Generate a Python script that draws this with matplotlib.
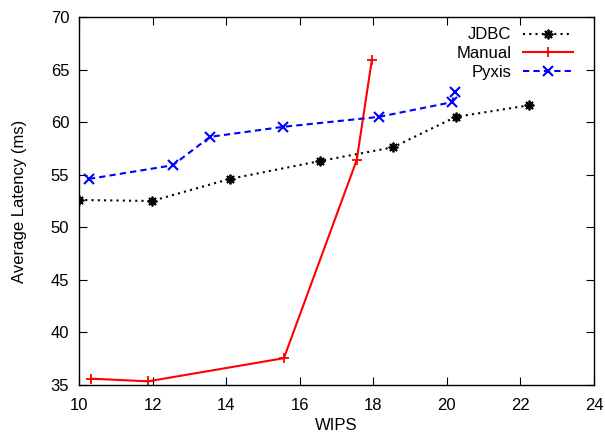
import matplotlib
matplotlib.use("Agg")
import matplotlib.pyplot as plt

plt.rcParams['font.family'] = ['Liberation Sans', 'DejaVu Sans']

jdbc_x = [10.0, 11.98, 14.1, 16.55, 18.53, 20.24, 22.23]
jdbc_y = [52.6, 52.5, 54.6, 56.3, 57.6, 60.5, 61.6]
manual_x = [10.33, 11.88, 15.57, 17.55, 17.96]
manual_y = [35.6, 35.35, 37.55, 56.4, 65.9]
pyxis_x = [10.27, 12.55, 13.56, 15.54, 18.15, 20.14, 20.22]
pyxis_y = [54.6, 55.9, 58.6, 59.55, 60.5, 61.9, 62.9]

xticks = [10, 12, 14, 16, 18, 20, 22, 24]
yticks = [35, 40, 45, 50, 55, 60, 65, 70]

fig = plt.figure(figsize=(6.05, 4.36), dpi=100)
ax = fig.add_axes([79/605, 1-385/436, (594-79)/605, (385-17)/436])

ax.plot(jdbc_x, jdbc_y, color='black', linestyle=(0, (1, 2)), linewidth=1.5,
        marker=(8, 2, 0), markersize=7, markeredgewidth=1.3, label='JDBC')
ax.plot(manual_x, manual_y, color='red', linestyle='-', linewidth=1.5,
        marker='+', markersize=7, markeredgewidth=1.3, label='Manual')
ax.plot(pyxis_x, pyxis_y, color='blue', linestyle=(0, (3, 2)), linewidth=1.5,
        marker='x', markersize=6.5, markeredgewidth=1.5, label='Pyxis')

ax.set_xlim(10, 24)
ax.set_ylim(35, 70)
ax.set_xticks(xticks)
ax.set_yticks(yticks)
ax.tick_params(direction='in', length=6, top=True, right=True, labelsize=12)
ax.tick_params(axis='x', pad=9)
ax.tick_params(axis='y', pad=7)
for s in ax.spines.values():
    s.set_linewidth(1.0)
ax.set_xlabel('WIPS', fontsize=12, labelpad=4)
ax.set_ylabel('Average Latency (ms)', fontsize=12, labelpad=17)

ax.legend(loc='upper right', frameon=False, markerfirst=False, fontsize=12,
          handlelength=3.0, handletextpad=0.7, labelspacing=0.22,
          borderaxespad=0.0, bbox_to_anchor=(0.972, 0.99))

fig.savefig('out.png', dpi=100)
